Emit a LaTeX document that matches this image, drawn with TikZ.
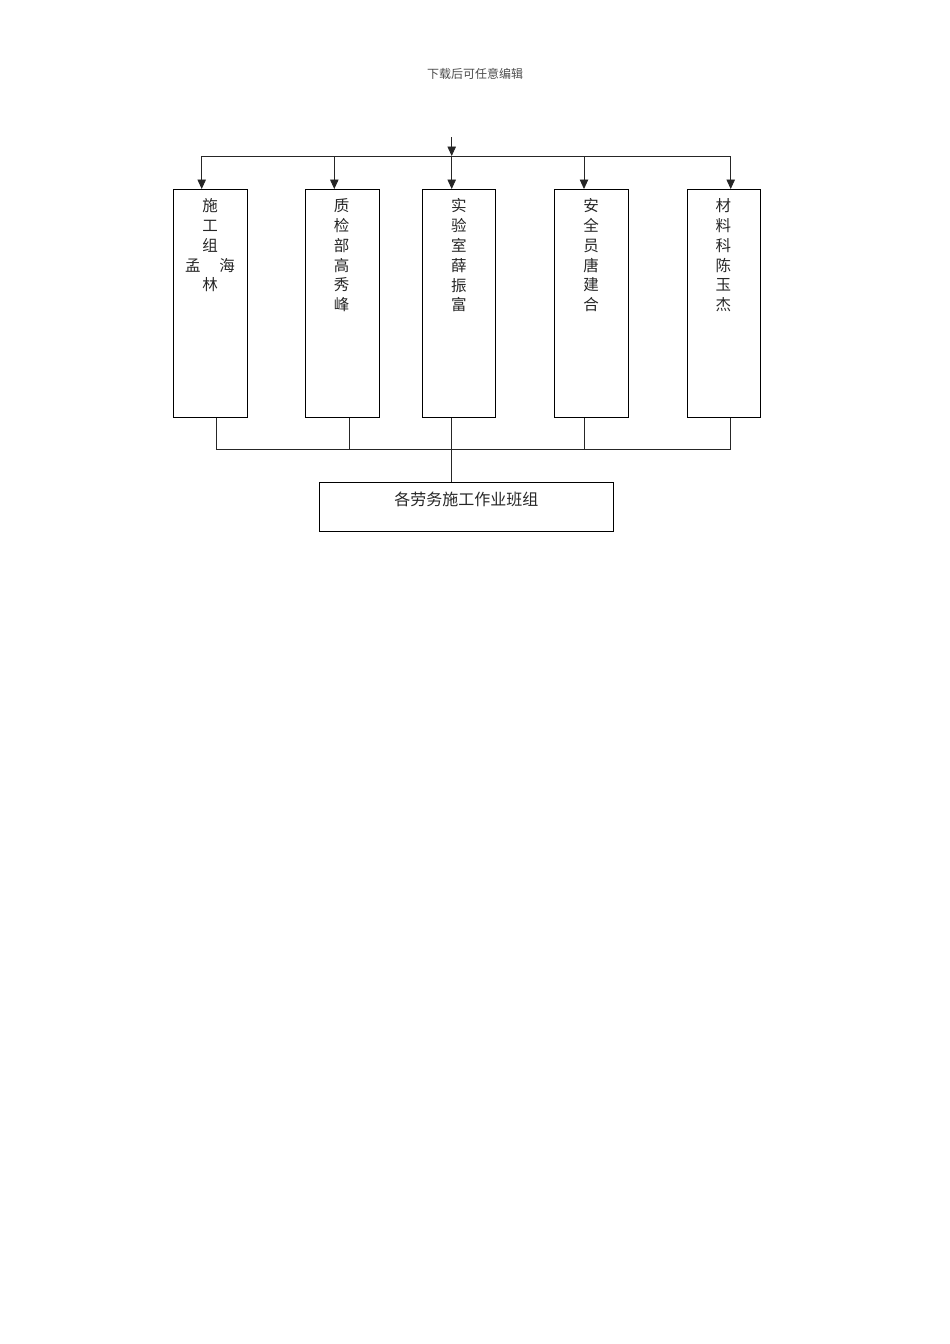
\documentclass[tikz,border=0pt]{standalone}
\usepackage{fontspec}
\newfontfamily\cjk{Noto Sans CJK SC}
\usetikzlibrary{arrows.meta}
\tikzset{
  box/.style={draw=black, line width=0.9pt, fill=none, inner sep=0pt, anchor=north west},
  vtext/.style={inner sep=0pt, anchor=north, align=center, font=\cjk\fontsize{15.5pt}{19.8pt}\selectfont, text=black!85},
  ln/.style={line width=0.9pt, draw=black!85},
  arr/.style={ln, -{Triangle[length=9.5pt,width=8.5pt]}},
}
\begin{document}
\begin{tikzpicture}[x=1pt,y=-1pt]
\useasboundingbox (0,0) rectangle (950,1344);
\node[inner sep=0pt, font=\cjk\fontsize{12pt}{14pt}\selectfont, text=black!70] (hdr) at (475,74) {下载后可任意编辑};
% boxes
\node[box, minimum width=74pt, minimum height=228pt] (b1) at (172.7,189) {};
\node[box, minimum width=74pt, minimum height=228pt] (b2) at (304.5,189) {};
\node[box, minimum width=73pt, minimum height=228pt] (b3) at (422.3,189) {};
\node[box, minimum width=73.5pt, minimum height=228pt] (b4) at (554.2,189) {};
\node[box, minimum width=73.5pt, minimum height=228pt] (b5) at (686.7,189) {};
\node[box, minimum width=294pt, minimum height=48.5pt] (b6) at (319.3,482) {};
% texts
\node[vtext] (t1) at (210,198.5) {施\\工\\组\\孟\hspace{19pt}海\\林};
\node[vtext] (t2) at (341.5,198.5) {质\\检\\部\\高\\秀\\峰};
\node[vtext] (t3) at (458.8,198.5) {实\\验\\室\\薛\\振\\富};
\node[vtext] (t4) at (591,198.5) {安\\全\\员\\唐\\建\\合};
\node[vtext] (t5) at (723.4,198.5) {材\\料\\科\\陈\\玉\\杰};
\node[inner sep=0pt, font=\cjk\fontsize{16pt}{18pt}\selectfont, text=black!85] (t6) at (466.3,499) {各劳务施工作业班组};
% top connectors
\coordinate (in) at (451.7,137);
\coordinate (bus) at (451.7,156);
\coordinate (a1) at (201.7,156);
\coordinate (a2) at (334.3,156);
\coordinate (a4) at (584,156);
\coordinate (a5) at (730.7,156);
\draw[arr] (in) -- (bus);
\draw[ln] (a1) -- (a5);
\draw[arr] (a1) -- (a1 |- b1.north);
\draw[arr] (a2) -- (a2 |- b2.north);
\draw[arr] (bus) -- (bus |- b3.north);
\draw[arr] (a4) -- (a4 |- b4.north);
\draw[arr] (a5) -- (a5 |- b5.north);
% bottom connectors
\coordinate (c1) at (216.7,449.3);
\coordinate (c2) at (349,449.3);
\coordinate (c3) at (451.7,449.3);
\coordinate (c4) at (584,449.3);
\coordinate (c5) at (730.3,449.3);
\draw[ln] (c1 |- b1.south) -- (c1) -- (c5) -- (c5 |- b5.south);
\draw[ln] (c2 |- b2.south) -- (c2);
\draw[ln] (c4 |- b4.south) -- (c4);
\draw[ln] (c3 |- b3.south) -- (c3 |- b6.north);
\end{tikzpicture}
\end{document}
